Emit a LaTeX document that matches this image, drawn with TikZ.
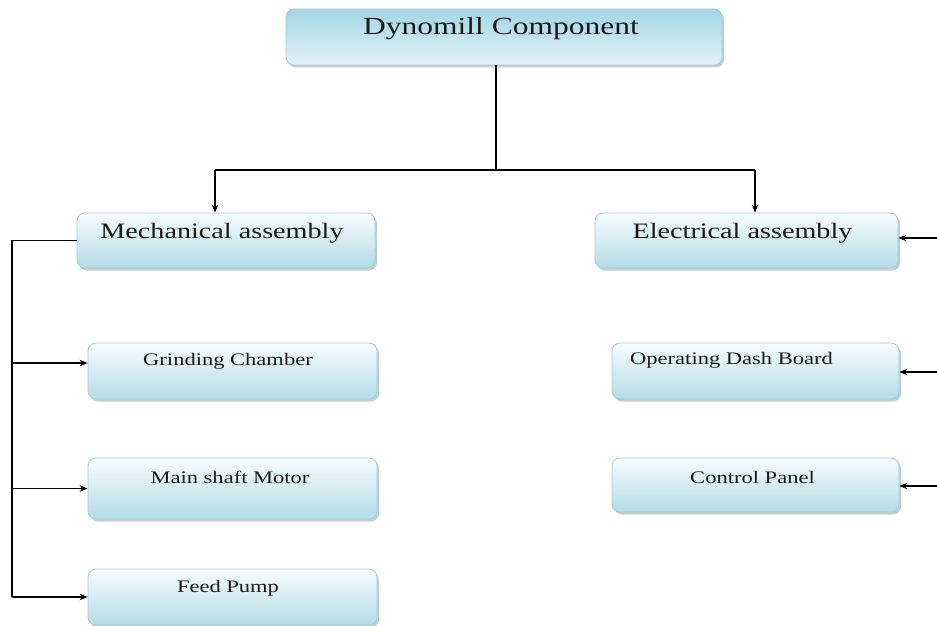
\documentclass[tikz,border=0pt]{standalone}
\usepackage{fontspec}
\setmainfont{Liberation Serif}[FakeStretch=1.28]
\usetikzlibrary{arrows.meta,shadows,calc}
\definecolor{boxedge}{HTML}{9CCFE0}
\definecolor{boxlow}{HTML}{B3DBE7}
\definecolor{boxhigh}{HTML}{F7FCFD}
\definecolor{headtop}{HTML}{A4D5E5}
\definecolor{headlow}{HTML}{E2F2F7}
\definecolor{inktext}{HTML}{1A1A1A}
\tikzset{
  x=1pt, y=-1pt,
  card/.style={draw=boxedge, line width=0.8pt, rounded corners=8pt, inner sep=0pt,
    top color=boxhigh, bottom color=boxlow,
    drop shadow={shadow xshift=2pt, shadow yshift=-2.5pt, fill=black!45, opacity=0.45}},
  headcard/.style={card, top color=headtop, bottom color=headlow},
  caption/.style={text=inktext, inner sep=0pt},
  link/.style={line width=1.2pt, black},
  arr/.style={link, -{Stealth[length=8pt,width=6.5pt]}}
}
\begin{document}
\begin{tikzpicture}
\useasboundingbox (0,0) rectangle (937,626);
\fill[white] (0,0) rectangle (937,626);

% boxes
\node[headcard, minimum width=436pt, minimum height=56pt] (top) at (504,37) {};
\node[card, minimum width=298pt, minimum height=55pt] (mech) at (226,240.5) {};
\node[card, minimum width=303pt, minimum height=55pt] (elec) at (746.5,240.5) {};
\node[card, minimum width=289pt, minimum height=56pt] (grind) at (232.5,371) {};
\node[card, minimum width=289pt, minimum height=61pt] (motor) at (232.5,488.5) {};
\node[card, minimum width=289pt, minimum height=56pt] (pump) at (232.5,597) {};
\node[card, minimum width=287pt, minimum height=56pt] (dash) at (755.5,371) {};
\node[card, minimum width=287pt, minimum height=54pt] (panel) at (755.5,485) {};

% captions
\node[caption, font=\fontsize{24.6}{28}\selectfont] (ttop) at (501,29) {Dynomill Component};
\node[caption, font=\fontsize{22}{26}\selectfont] (tmech) at (222,233) {Mechanical assembly};
\node[caption, font=\fontsize{22}{26}\selectfont] (telec) at (742.5,233) {Electrical assembly};
\node[caption, font=\fontsize{17.6}{21}\selectfont] (tgrind) at (228,361) {Grinding Chamber};
\node[caption, font=\fontsize{17.6}{21}\selectfont] (tmotor) at (230,477) {Main shaft Motor};
\node[caption, font=\fontsize{17.6}{21}\selectfont] (tpump) at (228,588) {Feed Pump};
\node[caption, font=\fontsize{17.6}{21}\selectfont, anchor=west] (tdash) at (630,360) {Operating Dash Board};
\node[caption, font=\fontsize{17.6}{21}\selectfont] (tpanel) at (752.5,477) {Control Panel};

% top-level split
\coordinate (j) at (496,170);
\coordinate (jl) at (215,170);
\coordinate (jr) at (755,170);
\draw[link] (j |- top.south) -- (j);
\draw[link] (jl) -- (jr);
\draw[arr] (jl) -- (jl |- mech.north);
\draw[arr] (jr) -- (jr |- elec.north);

% mechanical branch bus
\coordinate (bus) at (12,240.5);
\draw[link] (mech.west) -- (bus) -- (bus |- pump.west);
\draw[arr] ($(bus |- grind.west)+(0,-8)$) -- ($(grind.west)+(0,-8)$);
\draw[arr] (bus |- motor.west) -- (motor.west);
\draw[arr] (bus |- pump.west) -- (pump.west);

% electrical feeds entering from the right
\coordinate (r1) at (937,238);
\coordinate (r2) at (937,372);
\coordinate (r3) at (937,486);
\draw[arr] (r1) -- (r1 -| elec.east);
\draw[arr] (r2) -- (r2 -| dash.east);
\draw[arr] (r3) -- (r3 -| panel.east);
\end{tikzpicture}
\end{document}
